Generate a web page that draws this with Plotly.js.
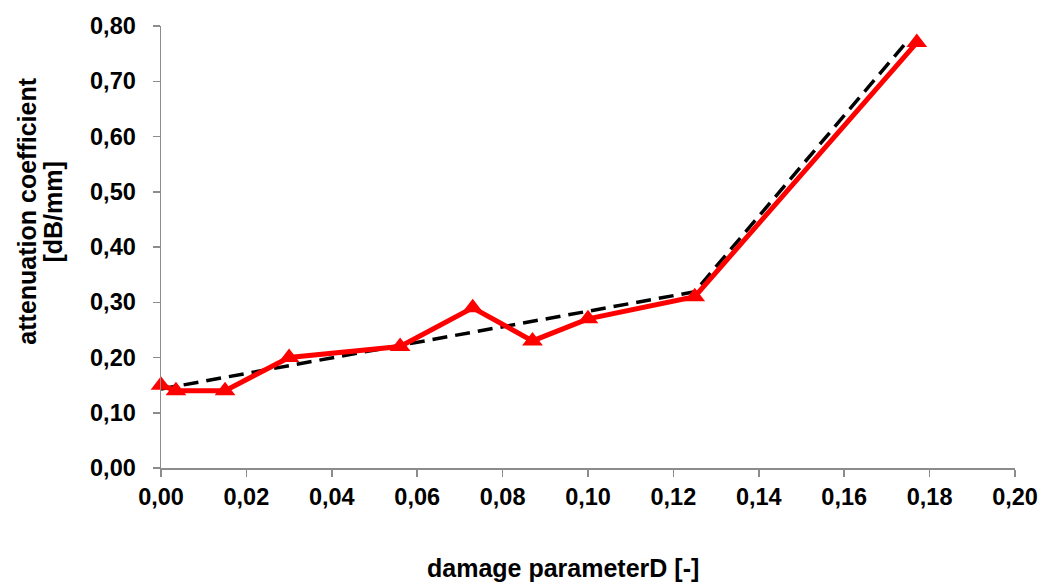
<!DOCTYPE html>
<html>
<head>
<meta charset="utf-8">
<script src="https://cdn.plot.ly/plotly-3.0.1.min.js"></script>
<style>
  html, body { margin: 0; padding: 0; background: #fff; }
  #chart { width: 1044px; height: 584px; }
</style>
</head>
<body>
<div id="chart"></div>
<script>
// Measured attenuation vs. damage parameter D
const damageD = [0.000, 0.0035, 0.015, 0.030, 0.056, 0.073, 0.087, 0.100, 0.125, 0.177];
const attenuation = [0.15, 0.14, 0.14, 0.20, 0.22, 0.29, 0.23, 0.27, 0.31, 0.77];

// Bilinear trend (two straight segments)
const trendD = [0.000, 0.125, 0.1745];
const trendAtt = [0.143, 0.319, 0.770];

const xTicks = [0, 0.02, 0.04, 0.06, 0.08, 0.10, 0.12, 0.14, 0.16, 0.18, 0.20];
const yTicks = [0, 0.10, 0.20, 0.30, 0.40, 0.50, 0.60, 0.70, 0.80];

const xTitle = 'damage parameterD [-]';
const yTitleLines = ['attenuation coefficient', '[dB/mm]'];

const fontFamily = '"Liberation Sans", Arial, sans-serif';
const titleFont = { family: fontFamily, size: 25, color: '#000', weight: 'bold' };

const traces = [
  {
    x: trendD, y: trendAtt,
    type: 'scatter', mode: 'lines',
    line: { color: '#000000', width: 3.5, dash: '15px,8px' },
    hoverinfo: 'skip'
  },
  {
    x: damageD, y: attenuation,
    type: 'scatter', mode: 'lines+markers',
    line: { color: '#ff0000', width: 5 },
    marker: { symbol: 'triangle-up', size: 18, color: '#ff0000' },
    cliponaxis: false
  }
];

const axisCommon = {
  showgrid: false,
  zeroline: false,
  showline: true,
  linecolor: '#8c8c8c',
  linewidth: 1.5,
  ticks: 'outside',
  tickcolor: '#8c8c8c',
  ticklen: 7,
  tickwidth: 1.5,
  tickformat: '.2f',
  tickfont: { family: fontFamily, size: 23.5, color: '#000', weight: 'bold' }
};

const layout = {
  width: 1044,
  height: 584,
  margin: { l: 161, r: 29, t: 26, b: 116 },
  paper_bgcolor: '#ffffff',
  plot_bgcolor: '#ffffff',
  separators: ', ',
  showlegend: false,
  xaxis: Object.assign({}, axisCommon, {
    range: [0, 0.2],
    tickvals: xTicks
  }),
  yaxis: Object.assign({}, axisCommon, {
    range: [0, 0.8],
    tickvals: yTicks,
    ticklabelstandoff: 12
  }),
  annotations: [
    {
      text: xTitle, font: titleFont, showarrow: false,
      xref: 'paper', yref: 'paper', x: 0.4707, y: -0.226,
      xanchor: 'center', yanchor: 'middle'
    },
    {
      text: yTitleLines[0], font: titleFont, showarrow: false, textangle: -90,
      xref: 'paper', yref: 'paper', x: -0.1569, y: 0.58,
      xanchor: 'center', yanchor: 'middle'
    },
    {
      text: yTitleLines[1], font: titleFont, showarrow: false, textangle: -90,
      xref: 'paper', yref: 'paper', x: -0.1265, y: 0.58,
      xanchor: 'center', yanchor: 'middle'
    }
  ]
};

Plotly.newPlot('chart', traces, layout, { displayModeBar: false, staticPlot: true });
</script>
</body>
</html>
